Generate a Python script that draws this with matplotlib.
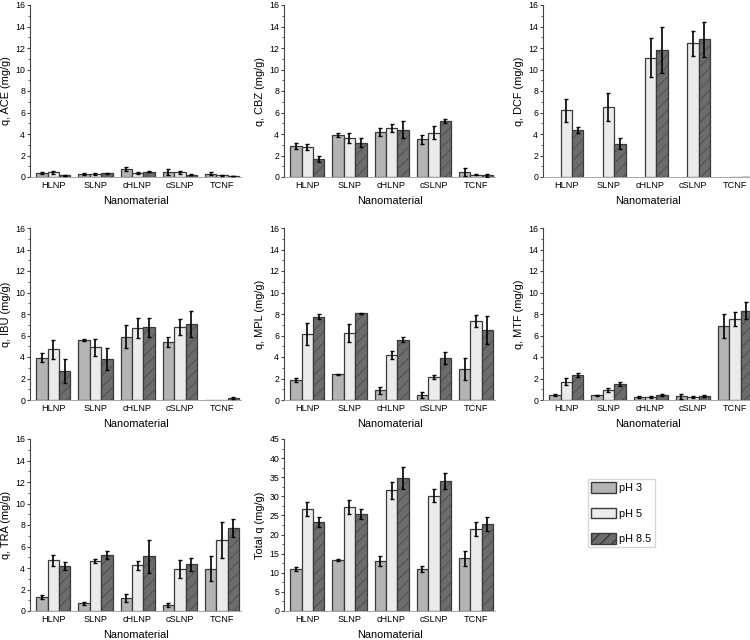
import numpy as np
import matplotlib
matplotlib.use("Agg")
from matplotlib import pyplot as plt
from matplotlib.patches import Patch

plt.rcParams["font.family"] = ["Liberation Sans", "DejaVu Sans"]

materials = ["HLNP", "SLNP", "cHLNP", "cSLNP", "TCNF"]
ph_labels = ["pH 3", "pH 5", "pH 8.5"]

# values per panel: rows = pH 3, pH 5, pH 8.5 ; columns = materials
ace = [[0.37, 0.25, 0.75, 0.45, 0.30],
       [0.42, 0.28, 0.38, 0.42, 0.15],
       [0.15, 0.35, 0.50, 0.22, 0.08]]
ace_err = [[0.10, 0.08, 0.20, 0.25, 0.15],
           [0.10, 0.05, 0.10, 0.15, 0.03],
           [0.05, 0.05, 0.05, 0.08, 0.03]]

cbz = [[2.9, 3.9, 4.2, 3.5, 0.45],
       [2.8, 3.6, 4.55, 4.1, 0.20],
       [1.7, 3.2, 4.4, 5.2, 0.15]]
cbz_err = [[0.3, 0.2, 0.4, 0.4, 0.35],
           [0.25, 0.45, 0.4, 0.6, 0.05],
           [0.3, 0.45, 0.8, 0.2, 0.15]]

dcf = [[np.nan, np.nan, np.nan, np.nan, np.nan],
       [6.2, 6.5, 11.1, 12.45, 0.03],
       [4.35, 3.1, 11.8, 12.8, 0.03]]
dcf_err = [[0, 0, 0, 0, 0],
           [1.05, 1.3, 1.8, 1.15, 0],
           [0.3, 0.5, 2.15, 1.6, 0]]

ibu = [[3.95, 5.6, 5.9, 5.4, 0.02],
       [4.7, 4.9, 6.7, 6.8, 0.02],
       [2.7, 3.8, 6.75, 7.05, 0.15]]
ibu_err = [[0.4, 0.1, 1.05, 0.45, 0],
           [0.85, 0.8, 0.95, 0.75, 0],
           [1.1, 1.05, 0.85, 1.2, 0.1]]

mpl_q = [[1.85, 2.4, 0.9, 0.45, 2.9],
         [6.15, 6.25, 4.2, 2.15, 7.35],
         [7.75, 8.05, 5.6, 3.9, 6.55]]
mpl_err = [[0.2, 0.05, 0.3, 0.25, 1.0],
           [1.0, 0.85, 0.4, 0.2, 0.6],
           [0.25, 0.05, 0.25, 0.55, 1.3]]

mtf = [[0.5, 0.45, 0.25, 0.35, 6.9],
       [1.7, 0.9, 0.3, 0.3, 7.55],
       [2.3, 1.5, 0.45, 0.35, 8.3]]
mtf_err = [[0.1, 0.05, 0.1, 0.25, 1.1],
           [0.35, 0.2, 0.1, 0.1, 0.65],
           [0.2, 0.2, 0.12, 0.1, 0.8]]

tra = [[1.3, 0.7, 1.2, 0.55, 3.95],
       [4.7, 4.65, 4.25, 3.9, 6.6],
       [4.2, 5.2, 5.1, 4.35, 7.7]]
tra_err = [[0.2, 0.15, 0.35, 0.15, 1.2],
           [0.55, 0.2, 0.4, 0.85, 1.7],
           [0.35, 0.35, 1.55, 0.6, 0.85]]

total = [[11.0, 13.3, 13.2, 10.9, 13.8],
         [26.7, 27.2, 31.6, 30.2, 21.5],
         [23.2, 25.3, 34.7, 33.9, 22.8]]
total_err = [[0.6, 0.3, 1.3, 0.8, 2.0],
             [1.8, 1.8, 2.2, 1.8, 1.9],
             [1.3, 1.3, 2.9, 2.1, 1.8]]

panels = [
    ("q, ACE (mg/g)", ace, ace_err, 16),
    ("q, CBZ (mg/g)", cbz, cbz_err, 16),
    ("q, DCF (mg/g)", dcf, dcf_err, 16),
    ("q, IBU (mg/g)", ibu, ibu_err, 16),
    ("q, MPL (mg/g)", mpl_q, mpl_err, 16),
    ("q, MTF (mg/g)", mtf, mtf_err, 16),
    ("q, TRA (mg/g)", tra, tra_err, 16),
    ("Total q (mg/g)", total, total_err, 45),
]

face = ["#b4b4b4", "#ebebeb", "#6c6c6c"]
edge = "#3a3a3a"

fig = plt.figure(figsize=(7.5, 6.4), dpi=100)
lefts = [30 / 750, 284 / 750, 543 / 750]
bottoms = [1 - 177 / 640, 1 - 400 / 640, 1 - 611 / 640]
w, h = 211 / 750, 172 / 640

x = np.arange(len(materials))
bw = 0.27

for i, (ylab, vals, errs, ymax) in enumerate(panels):
    ax = fig.add_axes([lefts[i % 3], bottoms[i // 3], w, h])
    for k in range(3):
        pos = x + (k - 1) * bw
        v = np.array(vals[k], dtype=float)
        e = np.array(errs[k], dtype=float)
        if k == 2:
            ax.bar(pos, v, bw, color=face[k], edgecolor="#585858", hatch="///",
                   linewidth=0, zorder=2)
            ax.bar(pos, v, bw, fill=False, edgecolor=edge, linewidth=0.9, zorder=3)
        else:
            ax.bar(pos, v, bw, color=face[k], edgecolor=edge, linewidth=0.9, zorder=2)
        m = ~np.isnan(v) & (e > 0)
        ax.errorbar(pos[m], v[m], yerr=e[m], fmt="none", ecolor="black",
                    elinewidth=1.2, capsize=1.5, capthick=1.0, zorder=4)
    ax.set_xlim(-0.55, 4.45)
    ax.set_ylim(0, ymax)
    step = 5 if ymax == 45 else 2
    ax.set_yticks(np.arange(0, ymax + 1, step))
    ax.set_yticks(np.arange(0, ymax + 0.1, step / 2), minor=True)
    ax.set_xticks(x)
    ax.set_xticklabels(materials, fontsize=6.6)
    ax.tick_params(axis="x", length=0, pad=3)
    ax.tick_params(axis="y", labelsize=6.3, length=2.5, width=0.8, pad=1, color="#444444")
    ax.tick_params(axis="y", which="minor", length=1.3, width=0.6, color="#444444")
    ax.spines["top"].set_visible(False)
    ax.spines["right"].set_visible(False)
    ax.spines["left"].set_color("#444444")
    ax.spines["left"].set_linewidth(0.8)
    ax.spines["bottom"].set_color("#999999")
    ax.spines["bottom"].set_linewidth(0.6)
    ax.set_ylabel(ylab, fontsize=7.9, labelpad=3)
    ax.set_xlabel("Nanomaterial", fontsize=7.9, labelpad=4)

handles = [Patch(facecolor=face[0], edgecolor=edge),
           Patch(facecolor=face[1], edgecolor=edge),
           Patch(facecolor=face[2], edgecolor="#3a3a3a", hatch="///")]
fig.legend(handles, ph_labels, loc="upper left",
           bbox_to_anchor=(588 / 750, 1 - 479 / 640), fontsize=7.8,
           frameon=True, fancybox=False, edgecolor="#cccccc",
           handlelength=2.3, handleheight=1.1, labelspacing=1.35,
           handletextpad=0.3, borderpad=0.3, borderaxespad=0)

fig.savefig("out.png", dpi=100, facecolor="white")
